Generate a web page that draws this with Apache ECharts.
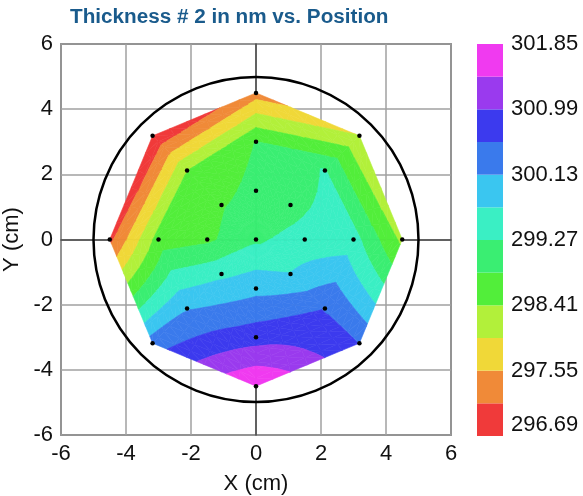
<!DOCTYPE html>
<html>
<head>
<meta charset="utf-8">
<script src="https://cdn.jsdelivr.net/npm/echarts@6/dist/echarts.min.js"></script>
<style>
	html, body { margin: 0; padding: 0; background: #fff; }
	#chart { width: 583px; height: 496px; }
</style>
</head>
<body>
<div id="chart"></div>
<script>
// measurement sites in cm: centre, then rings at r = 1.5, 3, 4.5 (8 sites each, anticlockwise from +X)
const siteX = [0,
	1.5, 1.061, 0, -1.061, -1.5, -1.061, 0, 1.061,
	3, 2.121, 0, -2.121, -3, -2.121, 0, 2.121,
	4.5, 3.182, 0, -3.182, -4.5, -3.182, 0, 3.182];
const siteY = [0,
	0, 1.061, 1.5, 1.061, 0, -1.061, -1.5, -1.061,
	0, 2.121, 3, 2.121, 0, -2.121, -3, -2.121,
	0, 3.182, 4.5, 3.182, 0, -3.182, -4.5, -3.182];
const thickness = [299.2,
	299.45, 299.1, 298.95, 298.8, 298.75, 299.6, 300.0, 299.72,
	299.45, 299.3, 298.85, 298.4, 298.6, 300.1, 300.8, 300.55,
	298.3, 298.0, 297.35, 296.69, 297.0, 300.35, 301.85, 300.55];

const levels = [296.69, 297.12, 297.55, 297.98, 298.41, 298.84, 299.27, 299.70, 300.13, 300.56, 300.99, 301.42, 301.85];
const bandColors = ["#f03a3a", "#f08a38", "#f0d838", "#b2f03a", "#52ee3a", "#3aee72",
	"#3aefc4", "#3ac6f0", "#3a7aec", "#3c3aee", "#9a3aee", "#f03af0"];
const colorbarLabels = ["296.69", "297.55", "298.41", "299.27", "300.13", "300.99", "301.85"];
const waferRadius = 5;

const FONT = "'Liberation Sans', Arial, sans-serif";
const RING = 8;
const SUB = 6;

const site = (ring, j) => {
	const i = ring === 0 ? 0 : 1 + (ring - 1) * RING + (j % RING);
	return [siteX[i], siteY[i], thickness[i]];
};

// bilinear patches between neighbouring rings, split into small triangles
const tris = [];
for (let ring = 0; ring < 3; ring++) {
	for (let j = 0; j < RING; j++) {
		const A = site(ring, j), B = site(ring, j + 1), C = site(ring + 1, j + 1), D = site(ring + 1, j);
		const P = (u, v) => [0, 1, 2].map((k) =>
			(1 - u) * (1 - v) * A[k] + u * (1 - v) * B[k] + u * v * C[k] + (1 - u) * v * D[k]);
		for (let a = 0; a < SUB; a++) {
			for (let b = 0; b < SUB; b++) {
				const p00 = P(a / SUB, b / SUB), p10 = P((a + 1) / SUB, b / SUB);
				const p11 = P((a + 1) / SUB, (b + 1) / SUB), p01 = P(a / SUB, (b + 1) / SUB);
				tris.push([p00, p10, p11], [p00, p11, p01]);
			}
		}
	}
}

function clipSide(poly, f) {
	const out = [];
	for (let i = 0; i < poly.length; i++) {
		const p = poly[i], q = poly[(i + 1) % poly.length];
		const fp = f(p), fq = f(q);
		if (fp >= 0) out.push(p);
		if ((fp >= 0) !== (fq >= 0)) {
			const t = fp / (fp - fq);
			out.push([p[0] + t * (q[0] - p[0]), p[1] + t * (q[1] - p[1]), p[2] + t * (q[2] - p[2])]);
		}
	}
	return out;
}

const contourPolys = [];
for (const tri of tris) {
	for (let b = 0; b < bandColors.length; b++) {
		const lo = b === 0 ? -Infinity : levels[b];
		const hi = b === bandColors.length - 1 ? Infinity : levels[b + 1];
		let poly = clipSide(tri, (p) => p[2] - lo);
		poly = clipSide(poly, (p) => hi - p[2]);
		if (poly.length >= 3) contourPolys.push({ pts: poly.map((p) => [p[0], p[1]]), band: b });
	}
}

const chart = echarts.init(document.getElementById("chart"));

const axisCommon = {
	type: "value",
	min: -6,
	max: 6,
	interval: 2,
	nameLocation: "middle",
	nameTextStyle: { fontSize: 22, color: "#111", fontFamily: FONT },
	axisLine: { lineStyle: { color: "#444", width: 1.5 } },
	axisTick: { show: false },
	axisLabel: { fontSize: 22, color: "#111", fontFamily: FONT, margin: 8 },
	splitLine: { lineStyle: { color: "#a0a0a0", width: 1.5 } },
};

chart.setOption({
	animation: false,
	graphic: [
		{
			type: "text",
			left: 70,
			top: 7,
			style: {
				text: "Thickness # 2 in nm vs. Position",
				font: `bold 20.7px ${FONT}`,
				fill: "#1a5b8c",
			},
		},
	],
	grid: [
		{ left: 61, top: 44, width: 390, height: 391, show: true, borderColor: "#444", borderWidth: 1.5, outerBoundsMode: "none" },
		{ left: 477, top: 44, width: 26, height: 392, outerBoundsMode: "none" },
	],
	xAxis: [
		{ ...axisCommon, gridIndex: 0, name: "X (cm)", nameGap: 38 },
		{ type: "value", gridIndex: 1, min: 0, max: 1, show: false },
	],
	yAxis: [
		{ ...axisCommon, gridIndex: 0, name: "Y (cm)", nameGap: 32 },
		{
			type: "value",
			gridIndex: 1,
			min: 0,
			max: 12,
			interval: 2,
			position: "right",
			axisLine: { show: false },
			axisTick: { show: false },
			splitLine: { show: false },
			axisLabel: {
				fontSize: 22,
				color: "#111",
				fontFamily: FONT,
				margin: 8,
				formatter: (v) => colorbarLabels[v / 2],
				verticalAlignMinLabel: "bottom",
			},
		},
	],
	series: [
		{
			type: "custom",
			xAxisIndex: 0,
			yAxisIndex: 0,
			silent: true,
			progressive: 0,
			z: 2,
			data: contourPolys.map((p) => p.pts[0]),
			renderItem: (params, api) => {
				const poly = contourPolys[params.dataIndex];
				const col = bandColors[poly.band];
				return {
					type: "polygon",
					shape: { points: poly.pts.map((p) => api.coord(p)) },
					style: { fill: col, stroke: col, lineWidth: 0.6 },
				};
			},
		},
		{
			type: "custom",
			xAxisIndex: 0,
			yAxisIndex: 0,
			silent: true,
			z: 3,
			data: [[0, 0, waferRadius]],
			renderItem: (params, api) => {
				const c = api.coord([api.value(0), api.value(1)]);
				const e = api.coord([api.value(0) + api.value(2), api.value(1)]);
				return {
					type: "circle",
					shape: { cx: c[0], cy: c[1], r: e[0] - c[0] },
					style: { fill: "none", stroke: "#000", lineWidth: 2.5 },
				};
			},
		},
		{
			type: "scatter",
			xAxisIndex: 0,
			yAxisIndex: 0,
			silent: true,
			z: 4,
			symbolSize: 4.5,
			itemStyle: { color: "#000", opacity: 1 },
			data: siteX.map((x, i) => [x, siteY[i]]),
		},
		{
			type: "custom",
			xAxisIndex: 1,
			yAxisIndex: 1,
			silent: true,
			data: bandColors.map((c, i) => [0, i]),
			renderItem: (params, api) => {
				const i = api.value(1);
				const p0 = api.coord([0, i]);
				const p1 = api.coord([1, i + 1]);
				return {
					type: "rect",
					shape: { x: p0[0], y: p1[1], width: p1[0] - p0[0], height: p0[1] - p1[1] },
					style: { fill: bandColors[i] },
				};
			},
		},
	],
});
</script>
</body>
</html>
